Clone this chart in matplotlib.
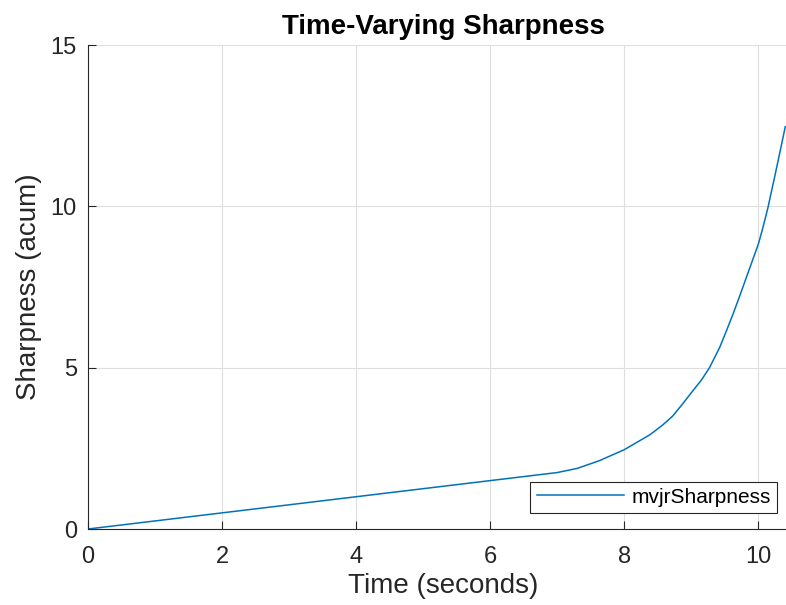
import matplotlib
matplotlib.use("Agg")
import matplotlib.pyplot as plt

time_s = [0.0, 7.0, 7.3, 7.63, 8.0, 8.38, 8.57, 8.72, 8.87, 9.02, 9.15, 9.27, 9.42,
          9.52, 9.62, 9.72, 9.82, 9.91, 10.0, 10.07, 10.14, 10.24, 10.32, 10.4]
sharpness = [0.0, 1.75, 1.88, 2.12, 2.46, 2.92, 3.22, 3.5, 3.88, 4.28, 4.62, 5.0, 5.62,
             6.13, 6.66, 7.22, 7.8, 8.32, 8.84, 9.37, 9.95, 10.9, 11.68, 12.47]
xticks = [0, 2, 4, 6, 8, 10]
yticks = [0, 5, 10, 15]

plt.rcParams['font.family'] = ['Liberation Sans', 'DejaVu Sans']
W, H = 786, 605
fig = plt.figure(figsize=(W/100, H/100), dpi=100)
x0, x1, y0, y1 = 88, 798.7, 529, 45
ax = fig.add_axes([x0/W, 1 - y0/H, (x1 - x0)/W, (y0 - y1)/H])

ax.plot(time_s, sharpness, color='#0072BD', lw=1.1, label='mvjrSharpness')
ax.set_xlim(0, 10.6)
ax.set_ylim(0, 15)
ax.set_xticks(xticks)
ax.set_yticks(yticks)
ax.grid(True, color='#dedede', lw=0.8)
ax.set_axisbelow(True)
for s in ['top', 'right']:
    ax.spines[s].set_visible(False)
for s in ['left', 'bottom']:
    ax.spines[s].set_color('#262626')
    ax.spines[s].set_linewidth(0.8)
ax.tick_params(direction='in', length=6, width=0.8, colors='#262626', labelsize=17)
ax.tick_params(axis='x', pad=12)
ax.tick_params(axis='y', pad=8)
ax.set_xlabel('Time (seconds)', fontsize=20, color='#262626', labelpad=4)
ax.set_ylabel('Sharpness (acum)', fontsize=20, color='#262626', labelpad=6)
ax.set_title('Time-Varying Sharpness', fontsize=20, fontweight='bold', pad=8)
leg = ax.legend(loc='lower right', bbox_to_anchor=(777/W, 1 - 513/H),
                bbox_transform=fig.transFigure, fontsize=15, frameon=True,
                fancybox=False, edgecolor='#262626', framealpha=1, borderaxespad=0,
                handlelength=4.2, handletextpad=0.35, borderpad=0.3)
leg.get_frame().set_linewidth(0.8)
fig.savefig('out.png', dpi=100)
